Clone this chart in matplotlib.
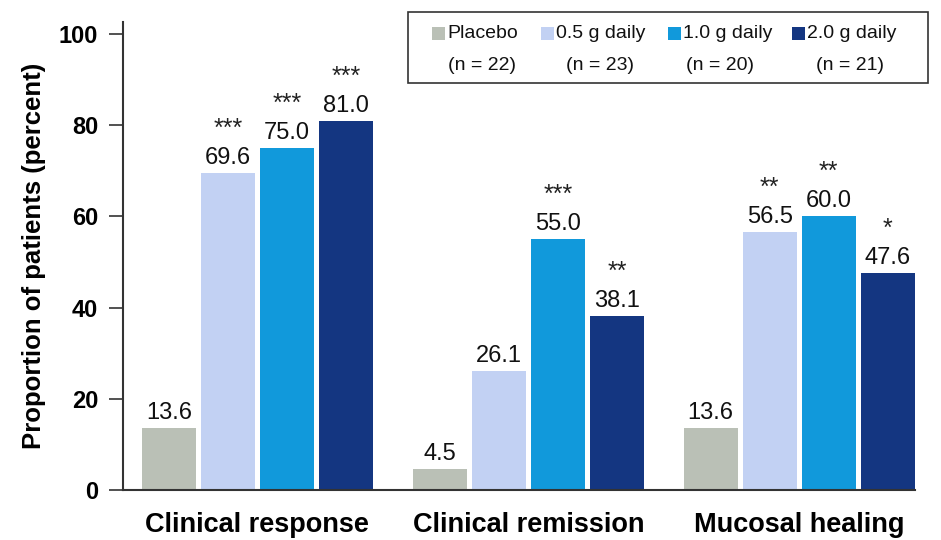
import matplotlib
matplotlib.use("Agg")
import matplotlib.pyplot as plt
from matplotlib.patches import Rectangle
import numpy as np

plt.rcParams['font.family'] = ['Liberation Sans', 'DejaVu Sans']

categories = ["Clinical response", "Clinical remission", "Mucosal healing"]
series_names = ["Placebo", "0.5 g daily", "1.0 g daily", "2.0 g daily"]
series_n = ["(n = 22)", "(n = 23)", "(n = 20)", "(n = 21)"]
placebo = [13.6, 4.5, 13.6]
dose_05 = [69.6, 26.1, 56.5]
dose_10 = [75.0, 55.0, 60.0]
dose_20 = [81.0, 38.1, 47.6]
stars_placebo = ["", "", ""]
stars_05 = ["***", "", "**"]
stars_10 = ["***", "***", "**"]
stars_20 = ["***", "**", "*"]
yticks = [0, 20, 40, 60, 80, 100]

colors = ["#BAC0B6", "#C2D1F3", "#1199DB", "#143681"]
values = [placebo, dose_05, dose_10, dose_20]
stars = [stars_placebo, stars_05, stars_10, stars_20]

fig = plt.figure(figsize=(9.41, 5.40), dpi=100)
ax = fig.add_axes([123 / 941, 1 - 490 / 540, (915 - 123) / 941, (490 - 22) / 540])

x = np.arange(len(categories))
slot = 0.218
width = 0.2
for i, (vals, col, st) in enumerate(zip(values, colors, stars)):
    xs = x + (i - 1.5) * slot
    ax.bar(xs, vals, width=width, color=col, edgecolor="none", zorder=2)
    for xv, v, s in zip(xs, vals, st):
        ax.annotate(f"{v:.1f}", (xv, v), xytext=(0, 4), textcoords="offset pixels",
                    ha="center", va="bottom", fontsize=17, color="#111111")
        if s:
            ax.annotate(s, (xv, v), xytext=(0, 44), textcoords="offset pixels",
                        ha="center", va="center", fontsize=18, color="#222222")

ax.set_xlim(-0.496, 2.427)
ax.set_ylim(0, 102.6)
ax.set_yticks(yticks)
ax.set_yticklabels([str(t) for t in yticks], fontsize=17, fontweight="bold")
ax.set_xticks(x)
ax.set_xticklabels(categories, fontsize=19.5, fontweight="bold")
ax.tick_params(axis="x", length=0, pad=16)
ax.tick_params(axis="y", length=10, width=1.2, direction="out", pad=8, color="#333333")
ax.set_ylabel("Proportion of patients (percent)", fontsize=18.5, fontweight="bold", labelpad=9)
for side in ("top", "right"):
    ax.spines[side].set_visible(False)
for side in ("left", "bottom"):
    ax.spines[side].set_linewidth(1.5)
    ax.spines[side].set_color("#333333")

# Legend box drawn in figure pixel coordinates
W, H = 941, 540
def fx(px):
    return px / W
def fy(py):
    return 1 - py / H

fig.patches.append(Rectangle((fx(408), fy(83)), fx(928) - fx(408), fy(12) - fy(83),
                             transform=fig.transFigure, fill=False,
                             edgecolor="#333333", linewidth=1.2))
square_x = [432, 541, 668, 792]
n_x = [482, 600, 720, 850]
for sx, nx, col, name, n in zip(square_x, n_x, colors, series_names, series_n):
    fig.patches.append(Rectangle((fx(sx), fy(40)), fx(13), 13 / H,
                                 transform=fig.transFigure, facecolor=col,
                                 edgecolor="none"))
    fig.text(fx(sx + 15), fy(33), name, ha="left", va="center", fontsize=14,
             color="#111111")
    fig.text(fx(nx), fy(65), n, ha="center", va="center", fontsize=14,
             color="#111111")

fig.savefig("out.png", dpi=100)
